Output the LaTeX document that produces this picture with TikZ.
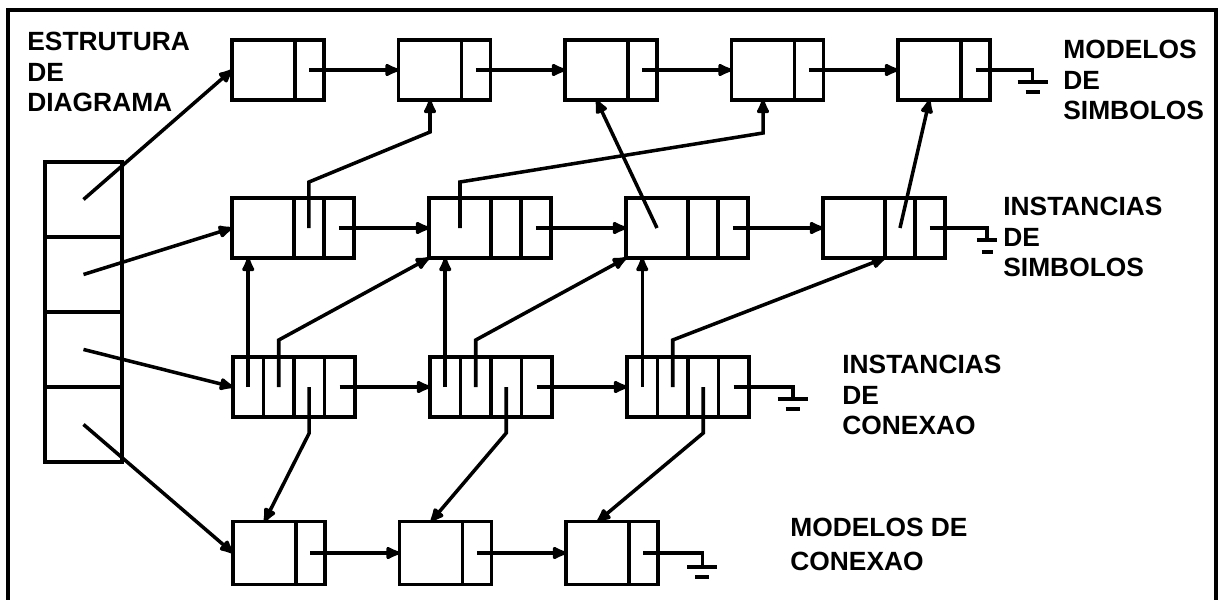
\documentclass[tikz,border=0pt]{standalone}
\usepackage{fontspec}
\setmainfont{Liberation Sans}
\usetikzlibrary{arrows.meta,calc}
\tikzset{
  cell/.style={draw, line width=2pt, inner sep=0pt, outer sep=0pt, minimum height=1.2cm, anchor=west},
  symmain/.style={cell, minimum width=1.26cm},
  symptr/.style={cell, minimum width=0.58cm},
  instmain/.style={cell, minimum width=1.24cm},
  instcell/.style={cell, minimum width=0.6cm},
  concell/.style={cell, minimum width=0.61cm},
  slot/.style={draw, line width=2pt, inner sep=0pt, outer sep=0pt, minimum width=1.54cm, minimum height=1.5cm, anchor=north},
  link/.style={line width=2pt, -{Latex[length=3.6mm,width=3mm,round]}},
  wire/.style={line width=2pt},
  rowname/.style={font=\bfseries\fontsize{15}{17.4}\selectfont, align=left, anchor=north west, inner sep=0pt}
}
\begin{document}
\begin{tikzpicture}[x=0.02cm,y=-0.02cm]
\useasboundingbox (0,0) rectangle (1219,599);
\draw[line width=2pt] (8,620) -- (8,10) -- (1216,10) -- (1216,620);

\node[rowname] (edtext) at (27,32) {ESTRUTURA\\DE\\DIAGRAMA};
\node[rowname] (mstext) at (1063,40) {MODELOS\\DE\\SIMBOLOS};
\node[rowname] (istext) at (1003,197) {INSTANCIAS\\DE\\SIMBOLOS};
\node[rowname] (ictext) at (842,355) {INSTANCIAS\\DE\\CONEXAO};
\node[rowname] (mctext) at (790,518) {MODELOS DE\\[2pt]CONEXAO};

\node[slot] (ed1) at (83.5,162) {};
\node[slot] (ed2) at (ed1.south) {};
\node[slot] (ed3) at (ed2.south) {};
\node[slot] (ed4) at (ed3.south) {};

\node[symmain] (ms1a) at (232,70) {};
\node[symptr] (ms1b) at (ms1a.east) {};
\node[symmain] (ms2a) at (398.5,70) {};
\node[symptr] (ms2b) at (ms2a.east) {};
\node[symmain] (ms3a) at (565,70) {};
\node[symptr] (ms3b) at (ms3a.east) {};
\node[symmain] (ms4a) at (731.5,70) {};
\node[symptr] (ms4b) at (ms4a.east) {};
\node[symmain] (ms5a) at (898,70) {};
\node[symptr] (ms5b) at (ms5a.east) {};

\node[instmain] (is1a) at (232,228) {};
\node[instcell] (is1b) at (is1a.east) {};
\node[instcell] (is1c) at (is1b.east) {};
\node[instmain] (is2a) at (429,228) {};
\node[instcell] (is2b) at (is2a.east) {};
\node[instcell] (is2c) at (is2b.east) {};
\node[instmain] (is3a) at (626,228) {};
\node[instcell] (is3b) at (is3a.east) {};
\node[instcell] (is3c) at (is3b.east) {};
\node[instmain] (is4a) at (823,228) {};
\node[instcell] (is4b) at (is4a.east) {};
\node[instcell] (is4c) at (is4b.east) {};

\node[concell] (ic1a) at (233,387) {};
\node[concell] (ic1b) at (ic1a.east) {};
\node[concell] (ic1c) at (ic1b.east) {};
\node[concell] (ic1d) at (ic1c.east) {};
\node[concell] (ic2a) at (430,387) {};
\node[concell] (ic2b) at (ic2a.east) {};
\node[concell] (ic2c) at (ic2b.east) {};
\node[concell] (ic2d) at (ic2c.east) {};
\node[concell] (ic3a) at (627,387) {};
\node[concell] (ic3b) at (ic3a.east) {};
\node[concell] (ic3c) at (ic3b.east) {};
\node[concell] (ic3d) at (ic3c.east) {};

\node[symmain, minimum height=1.26cm] (mc1a) at (233,553) {};
\node[symptr, minimum height=1.26cm] (mc1b) at (mc1a.east) {};
\node[symmain, minimum height=1.26cm] (mc2a) at (399.5,553) {};
\node[symptr, minimum height=1.26cm] (mc2b) at (mc2a.east) {};
\node[symmain, minimum height=1.26cm] (mc3a) at (566,553) {};
\node[symptr, minimum height=1.26cm] (mc3b) at (mc3a.east) {};

\draw[link] (ed1.center) -- (ms1a.west);
\draw[link] (ed2.center) -- (is1a.west);
\draw[link] (ed3.center) -- (ic1a.west);
\draw[link] (ed4.center) -- (mc1a.west);

\draw[link] (ms1b.center) -- (ms2a.west);
\draw[link] (ms2b.center) -- (ms3a.west);
\draw[link] (ms3b.center) -- (ms4a.west);
\draw[link] (ms4b.center) -- (ms5a.west);
\draw[wire] (ms5b.center) -- ++(57,0) -- ++(0,12) ++(-15,0) -- ++(30,0) ++(-22,10) -- ++(14,0);

\draw[link] (is1c.center) -- (is2a.west);
\draw[link] (is2c.center) -- (is3a.west);
\draw[link] (is3c.center) -- (is4a.west);
\draw[wire] (is4c.center) -- ++(57,0) -- ++(0,12) ++(-10,0) -- ++(20,0) ++(-15,12) -- ++(11,0);

\draw[link] (is1b.center) -- ++(0,-46) -- ($(ms2a.south)+(0,32)$) -- (ms2a.south);
\draw[link] (is2a.center) -- ++(0,-46) -- ($(ms4a.south)+(0,33)$) -- (ms4a.south);
\draw[link] (is3a.center) -- (ms3a.south);
\draw[link] (is4b.center) -- (ms5a.south);

\draw[link] (ic1a.center) -- (ic1a.center |- is1a.south);
\draw[link] (ic2a.center) -- (ic2a.center |- is2a.south);
\draw[link] (ic3a.center) -- (ic3a.center |- is3a.south);
\draw[link] (ic1b.center) -- ++(0,-47) -- (is2a.south west);
\draw[link] (ic2b.center) -- ++(0,-47) -- (is3a.south west);
\draw[link] (ic3b.center) -- ++(0,-47) -- (is4a.south east);
\draw[link] (ic1c.center) -- ++(0,46) -- (mc1a.north);
\draw[link] (ic2c.center) -- ++(0,46) -- (mc2a.north);
\draw[link] (ic3c.center) -- ++(0,46) -- (mc3a.north);
\draw[link] (ic1d.center) -- (ic2a.west);
\draw[link] (ic2d.center) -- (ic3a.west);
\draw[wire] (ic3d.center) -- ++(59,0) -- ++(0,12) ++(-15,0) -- ++(30,0) ++(-22,10) -- ++(14,0);

\draw[link] (mc1b.center) -- (mc2a.west);
\draw[link] (mc2b.center) -- (mc3a.west);
\draw[wire] (mc3b.center) -- ++(59,0) -- ++(0,14) ++(-15,0) -- ++(30,0) ++(-22,10) -- ++(14,0);
\end{tikzpicture}
\end{document}
